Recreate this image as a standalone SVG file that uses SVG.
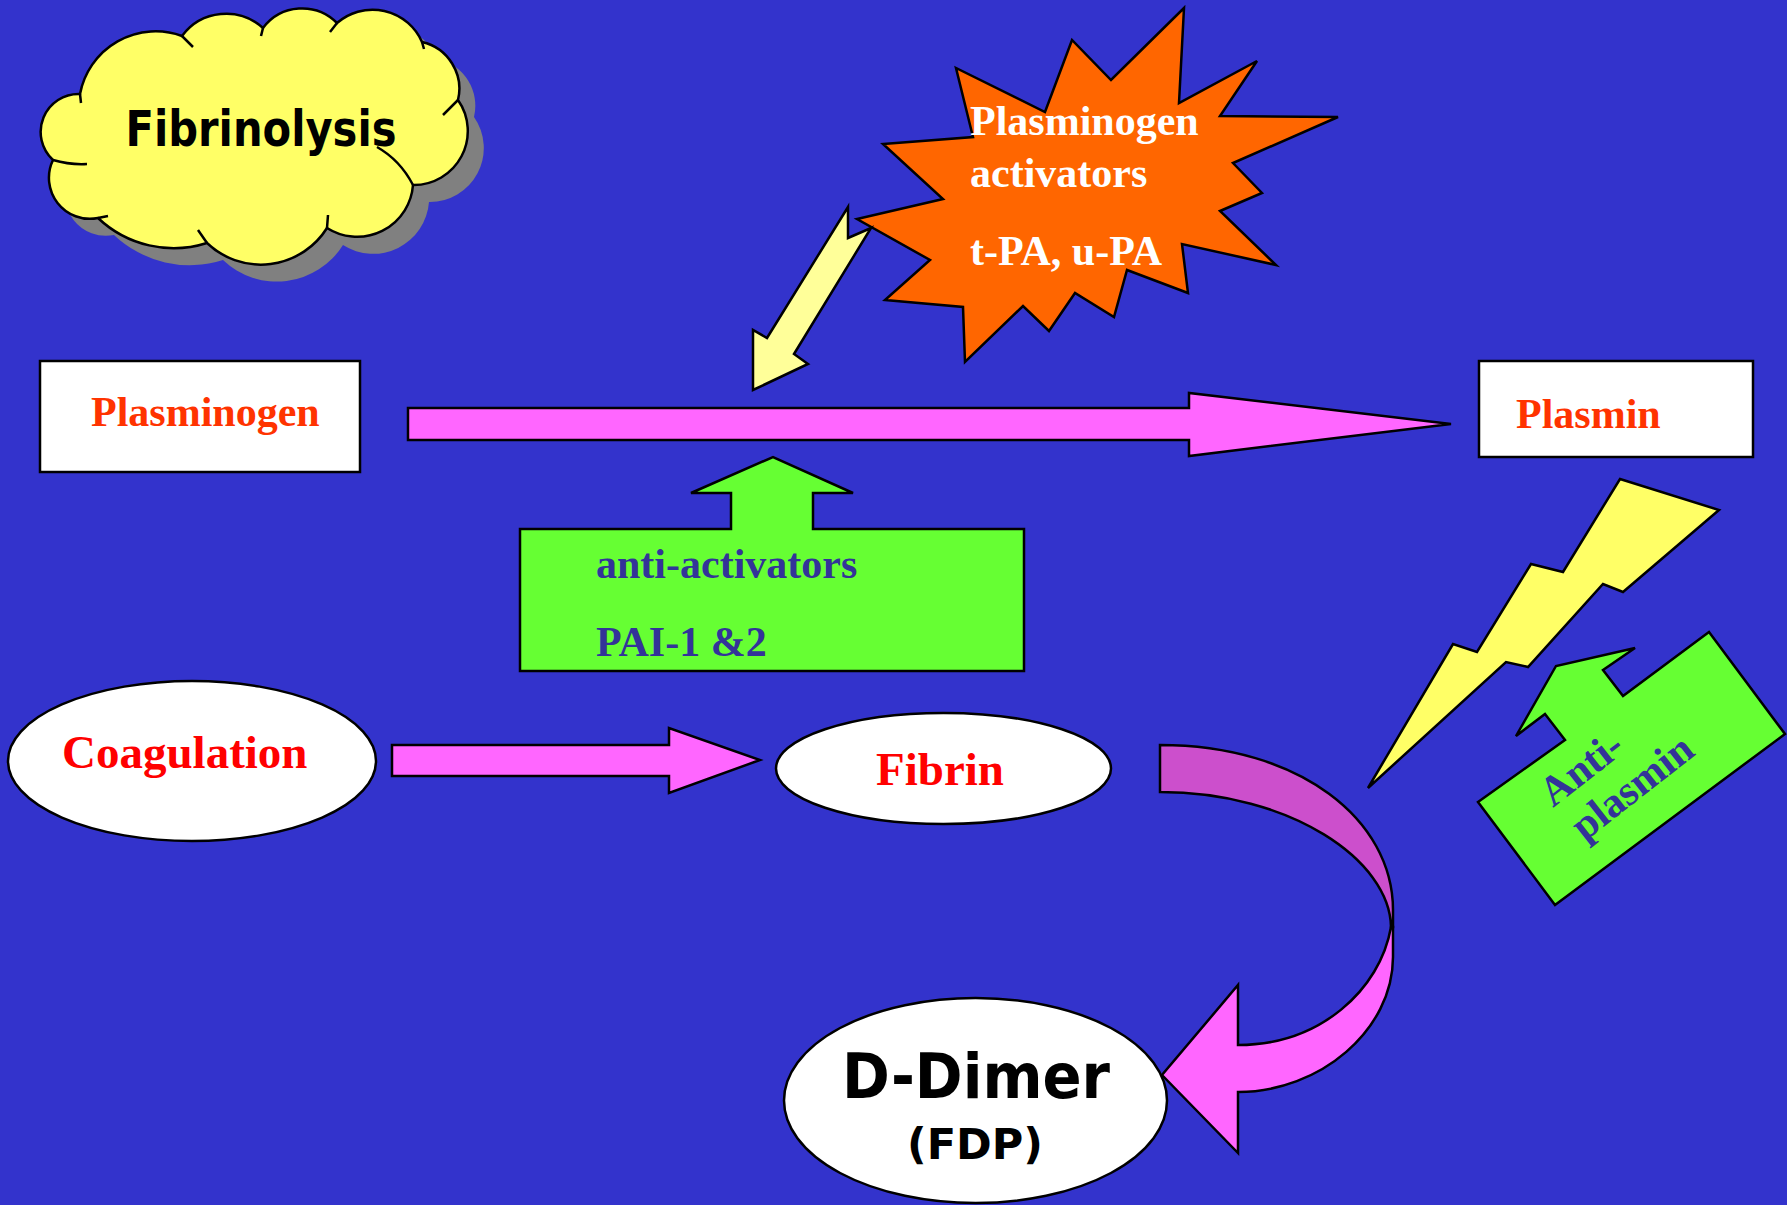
<svg xmlns="http://www.w3.org/2000/svg" width="1787" height="1205" viewBox="0 0 1787 1205">
<style>
.ln{stroke:#000;stroke-width:2.5;stroke-linejoin:miter}
.serif{font-family:"Liberation Serif","Times New Roman",serif;font-weight:bold}
.sans{font-family:"DejaVu Sans","Verdana",sans-serif;font-weight:bold}
.pink{fill:#FF66FF}
.green{fill:#66FF33}
</style>
<defs>
<path id="cloudPath" d="M80,94 A77,77 0 0 1 182,36 A55,55 0 0 1 263,28 A49,49 0 0 1 337,23 A54,54 0 0 1 422,42 A48,48 0 0 1 458,100 A54,54 0 0 1 413,185 A56,56 0 0 1 327,228 A78,78 0 0 1 207,243 A110,110 0 0 1 98,218 A41,41 0 0 1 53,160 A38,38 0 0 1 80,94 Z"/>
</defs>
<rect x="0" y="0" width="1787" height="1205" fill="#3333CC"/>

<g id="title-cloud">
<use href="#cloudPath" transform="translate(16,17)" fill="#808080"/>
<use href="#cloudPath" fill="#FFFF66" class="ln"/>
<path d="M182,36 L193,47 M263,28 L261,36 M337,23 L330,32 M422,42 L424,49 M458,100 L443,115 M413,185 Q400,160 377,147 M327,228 L328,215 M207,243 L198,230 M98,218 L108,216 M53,160 Q70,165 87,164 M80,94 L81,103" fill="none" class="ln"/>
<text x="261" y="146" text-anchor="middle" class="sans" font-size="50" textLength="271" lengthAdjust="spacingAndGlyphs">Fibrinolysis</text>
</g>

<g id="plasminogen-activators">
<polygon class="ln" fill="#FF6600" points="1184,8 1179,103 1257,61 1220,116 1338,117 1233,163 1262,193 1220,211 1276,265 1182,244 1188,293 1127,270 1114,317 1075,293 1049,331 1023,306 965,362 963,307 885,300 930,260 857,219 943,199 883,144 973,137 956,68 1045,112 1072,40 1111,80"/>
<text class="serif" font-size="42" fill="#FFFFFF"><tspan x="970" y="135">Plasminogen</tspan><tspan x="970" y="187">activators</tspan><tspan x="970" y="265">t-PA, u-PA</tspan></text>
</g>

<g id="plasminogen">
<rect x="40" y="361" width="320" height="111" fill="#FFFFFF" class="ln"/>
<text x="91" y="426" class="serif" font-size="42" fill="#FF3300">Plasminogen</text>
</g>

<g id="plasmin">
<rect x="1479" y="361" width="274" height="96" fill="#FFFFFF" class="ln"/>
<text x="1516" y="428" class="serif" font-size="42" fill="#FF3300">Plasmin</text>
</g>

<g id="anti-activators">
<polygon class="ln green" points="520,529 731,529 731,493 691,493 773,457 853,493 813,493 813,529 1024,529 1024,671 520,671"/>
<text class="serif" font-size="42" fill="#333399"><tspan x="596" y="578">anti-activators</tspan><tspan x="596" y="656">PAI-1 &amp;2</tspan></text>
</g>

<g id="anti-plasmin">
<polygon class="ln green" points="1709,632 1785,734 1555,905 1478,802 1565,740 1545,714 1516,736 1556,666 1635,648 1603,670 1623,696"/>
<g transform="translate(1553,808) rotate(-38)">
<text class="serif" font-size="42" fill="#333399"><tspan x="0" y="0">Anti-</tspan><tspan x="4" y="46">plasmin</tspan></text>
</g>
</g>

<g id="coagulation">
<ellipse cx="192" cy="761" rx="184" ry="80" fill="#FFFFFF" class="ln"/>
<text x="62" y="768" class="serif" font-size="47" fill="#FF0000">Coagulation</text>
</g>

<g id="fibrin">
<ellipse cx="943.5" cy="768.5" rx="167.5" ry="55.5" fill="#FFFFFF" class="ln"/>
<text x="876" y="785" class="serif" font-size="47" fill="#FF0000">Fibrin</text>
</g>

<g id="d-dimer">
<ellipse cx="975.5" cy="1100.5" rx="191.5" ry="102.5" fill="#FFFFFF" class="ln"/>
<text x="976" y="1098" text-anchor="middle" class="sans" font-size="63" textLength="268" lengthAdjust="spacingAndGlyphs">D-Dimer</text>
<text x="975" y="1159" text-anchor="middle" class="sans" font-size="43">(FDP)</text>
</g>

<g id="connectors">
<polygon class="ln pink" points="408,408 1189,408 1189,393 1451,424 1189,456 1189,440 408,440"/>
<polygon class="ln" fill="#FFFF99" points="848,207 848,238 871,228 794,354 808,364 753,390 753,330 767,338"/>
<polygon class="ln pink" points="392,745 669,745 669,728 760,760 669,793 669,776 392,776"/>
<path class="ln" fill="#CC4FCC" d="M1160,745 C1300,745 1393,820 1393,910 L1393,927 L1391,927 C1390,860 1290,792 1160,792 Z"/>
<path class="ln pink" d="M1391,927 L1393,927 L1393,957 C1393,1030 1320,1092 1238,1092 L1238,1153 L1162,1075 L1238,985 L1238,1045 C1320,1045 1380,990 1391,927 Z"/>
<polygon class="ln" fill="#FFFF66" points="1620,479 1719,510 1623,592 1603,584 1528,667 1506,662 1368,788 1453,644 1477,652 1531,564 1563,572"/>
</g>
</svg>
